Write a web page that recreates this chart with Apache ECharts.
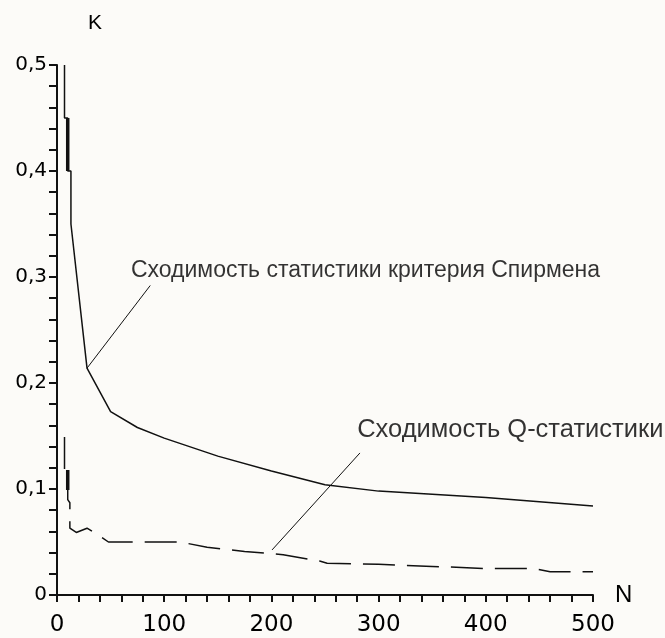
<!DOCTYPE html>
<html><head><meta charset="utf-8">
<script src="https://cdn.jsdelivr.net/npm/echarts@6/dist/echarts.min.js"></script>
<style>html,body{margin:0;padding:0;background:#fcfbf8}#c{width:665px;height:638px}</style>
</head><body><div id="c"></div>
<script>
// Spearman criterion statistic convergence (solid)
const spearmanN = [7, 7, 10, 10, 13, 13, 28, 50, 75, 100, 150, 200, 250, 300, 350, 400, 450, 500];
const spearmanK = [0.5, 0.45, 0.45, 0.40, 0.40, 0.35, 0.214, 0.173, 0.158, 0.148, 0.131, 0.117, 0.104, 0.098, 0.095, 0.092, 0.088, 0.084];
const spearmanThickN = [10, 10];
const spearmanThickK = [0.45, 0.40];
// Q statistic convergence (dashed)
const qN = [7, 7, 10, 10, 12, 12, 18, 28, 38, 48, 115, 140, 175, 200, 211, 245, 252, 300, 350, 400, 445, 460, 500];
const qK = [0.149, 0.118, 0.118, 0.090, 0.087, 0.063, 0.059, 0.063, 0.057, 0.050, 0.050, 0.045, 0.041, 0.039, 0.038, 0.032, 0.030, 0.029, 0.027, 0.025, 0.025, 0.022, 0.022];
const qThickN = [10, 10];
const qThickK = [0.118, 0.099];
// tick labels
const xTickLabels = ['0', '100', '200', '300', '400', '500'];
const yTickLabels = ['0', '0,1', '0,2', '0,3', '0,4', '0,5'];
// annotations (data space)
const spearmanText = 'Сходимость статистики критерия Спирмена';
const qText = 'Сходимость Q-статистики';
const spearmanPointerN = [28, 87];
const spearmanPointerK = [0.214, 0.292];
const qPointerN = [282.6, 200.6];
const qPointerK = [0.134, 0.0425];
const spearmanTextAt = [69, 0.3057];
const qTextAt = [280, 0.1557];

const zip = (a, b) => a.map((v, i) => [v, b[i]]);
const ink = '#111';
const textInk = '#000';
const font = 'Liberation Sans, Arial, sans-serif';
const tickFont = 'DejaVu Sans, sans-serif';

const chart = echarts.init(document.getElementById('c'), null, {renderer: 'canvas'});
chart.setOption({
  animation: false,
  backgroundColor: '#fcfbf8',
  grid: {left: 57, right: 72, top: 65, bottom: 43, containLabel: false},
  xAxis: {
    type: 'value', min: 0, max: 500, interval: 100,
    name: 'N', nameLocation: 'end', nameGap: 22,
    nameTextStyle: {fontFamily: font, fontSize: 24, color: textInk},
    axisLine: {show: true, onZero: false, lineStyle: {color: ink, width: 2}},
    axisTick: {show: true, length: 7, inside: false, lineStyle: {color: ink, width: 2}},
    minorTick: {show: true, splitNumber: 5, length: 7, lineStyle: {color: ink, width: 2}},
    splitLine: {show: false},
    axisLabel: {fontFamily: tickFont, fontSize: 23, color: textInk, margin: 19,
      formatter: v => xTickLabels[Math.round(v / 100)]}
  },
  yAxis: {
    type: 'value', min: 0, max: 0.5, interval: 0.1,
    name: 'K', nameLocation: 'end', nameGap: 31,
    nameTextStyle: {fontFamily: font, fontSize: 21, color: textInk, padding: [0, 0, 0, 76]},
    axisLine: {show: true, onZero: false, lineStyle: {color: ink, width: 2}},
    axisTick: {show: true, length: 8, inside: false, lineStyle: {color: ink, width: 2}},
    minorTick: {show: true, splitNumber: 5, length: 8, lineStyle: {color: ink, width: 2}},
    splitLine: {show: false},
    axisLabel: {fontFamily: tickFont, fontSize: 20, color: textInk, margin: 10, padding: [8, 0, 0, 0],
      formatter: v => yTickLabels[Math.round(v * 10)]}
  },
  series: [
    {type: 'line', data: zip(spearmanN, spearmanK), showSymbol: false, symbol: 'none',
      lineStyle: {color: ink, width: 1.5}},
    {type: 'line', data: zip(spearmanThickN, spearmanThickK), showSymbol: false, symbol: 'none',
      lineStyle: {color: ink, width: 3.5}},
    {type: 'line', data: zip(qN, qK), showSymbol: false, symbol: 'none',
      lineStyle: {color: ink, width: 1.5, type: [32, 12]}},
    {type: 'line', data: zip(qThickN, qThickK), showSymbol: false, symbol: 'none',
      lineStyle: {color: ink, width: 3.5}},
    {type: 'line', data: zip(spearmanPointerN, spearmanPointerK), showSymbol: false, symbol: 'none',
      lineStyle: {color: ink, width: 1}},
    {type: 'line', data: zip(qPointerN, qPointerK), showSymbol: false, symbol: 'none',
      lineStyle: {color: ink, width: 1}},
    {type: 'scatter', symbolSize: 0, silent: true,
      data: [
        {value: spearmanTextAt, name: spearmanText, label: {fontSize: 23}},
        {value: qTextAt, name: qText, label: {fontSize: 25.5}}
      ],
      label: {show: true, position: 'right', distance: 0, formatter: p => p.name,
        fontFamily: font, fontSize: 23, color: textInk}}
  ]
});
</script>
</body></html>
